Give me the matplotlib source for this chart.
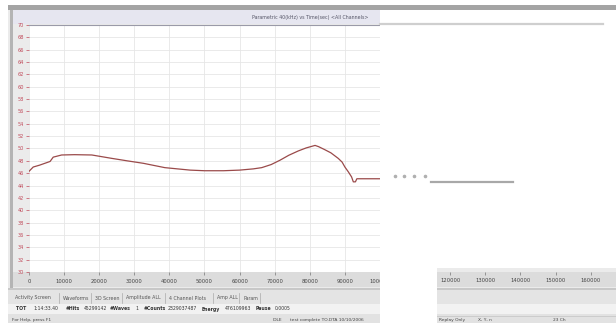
import matplotlib
matplotlib.use("Agg")
import matplotlib.pyplot as plt
from matplotlib.patches import Rectangle
from matplotlib.lines import Line2D

# ---- data ----
time_s = [0, 1200, 3000, 4500, 6000, 6900, 9300, 13000, 17900, 23600, 28000, 32600,
          38700, 45900, 50000, 55400, 60000, 63900, 66300, 69000, 71500, 74000, 76700,
          79000, 81500, 82500, 84300, 86000, 88100, 89200, 90000, 91000, 91900, 92400,
          93000, 93400, 96000, 100000]
param_khz = [46.3, 47.0, 47.3, 47.6, 47.9, 48.6, 48.95, 49.0, 48.95, 48.4, 48.0, 47.6,
             46.9, 46.5, 46.4, 46.4, 46.5, 46.7, 46.9, 47.4, 48.1, 48.9, 49.6,
             50.1, 50.5, 50.3, 49.8, 49.3, 48.4, 47.8, 47.0, 46.2, 45.4, 44.6,
             44.6, 45.1, 45.1, 45.1]
y_ticks = list(range(30, 71, 2))
x_ticks = [0, 10000, 20000, 30000, 40000, 50000, 60000, 70000, 80000, 90000, 100000]
x_ticks_right = [120000, 130000, 140000, 150000, 160000]
tabs = ["Activity Screen", "Waveforms", "3D Screen", "Amplitude ALL", "4 Channel Plots", "Amp ALL", "Param"]

W, H = 616, 323
fig = plt.figure(figsize=(W / 100, H / 100), dpi=100)
fig.patch.set_facecolor("white")

def frect(x0, y0, x1, y1, color, z=-5, **kw):
    r = Rectangle((x0 / W, 1 - y1 / H), (x1 - x0) / W, (y1 - y0) / H,
                  transform=fig.transFigure, facecolor=color, edgecolor="none", zorder=z, **kw)
    fig.patches.append(r)

def fline(x0, y0, x1, y1, color, lw=1, z=6, **kw):
    fig.lines.append(Line2D([x0 / W, x1 / W], [1 - y0 / H, 1 - y1 / H], transform=fig.transFigure,
                            color=color, lw=lw, zorder=z, **kw))

def ftext(x, y, s, size=4, z=7, **kw):
    fig.text(x / W, 1 - y / H, s, fontsize=size, zorder=z, va="center", **kw)

# window backgrounds
frect(8, 5, 616, 10, "#a4a4a4")
frect(8, 10, 616, 290, "#ebebeb")
frect(10, 10, 13, 290, "#b4b4b4")
frect(13, 10, 380, 24, "#e6e6f0")
frect(13, 272, 616, 287, "#dcdcdc")
frect(8, 288, 616, 290, "#c8c8c8")
frect(8, 290, 616, 304, "#e4e4e4")
frect(8, 304, 616, 314, "#f2f2f2")
frect(8, 314, 616, 323, "#e2e2e2")

# main axes
ax = fig.add_axes([29 / W, 1 - 272 / H, 351 / W, 247 / H])
ax.set_facecolor("white")
ax.plot(time_s, param_khz, color="#9a4a4a", lw=0.9)
ax.set_xlim(0, 100000)
ax.set_ylim(30, 70)
ax.set_yticks(y_ticks)
ax.set_yticklabels([str(v) for v in y_ticks])
ax.set_xticks(x_ticks)
ax.set_xticklabels([str(v) for v in x_ticks])
ax.grid(True, color="#e6e6e6", lw=0.6)
ax.tick_params(axis="y", labelsize=3.6, labelcolor="#c04a5a", color="#c04a5a", length=2.5, width=0.5, pad=1)
ax.tick_params(axis="x", labelsize=3.8, labelcolor="#444444", color="#777777", length=2, width=0.5, pad=3)
for s in ax.spines.values():
    s.set_visible(False)
ax.spines["top"].set_visible(True)
ax.spines["top"].set_color("#9a9aa8")
ax.spines["top"].set_linewidth(0.8)

# right bottom strip axis (continuation)
ax2 = fig.add_axes([437 / W, 1 - 287 / H, 179 / W, 15 / H])
ax2.set_facecolor("#dcdcdc")
ax2.set_xlim((437 - 29) / 351 * 100000, (616 - 29) / 351 * 100000)
ax2.set_xticks(x_ticks_right)
ax2.set_xticklabels([str(v) for v in x_ticks_right])
ax2.set_yticks([])
ax2.tick_params(axis="x", labelsize=3.8, labelcolor="#444444", color="#777777", length=2,
                width=0.5, pad=-8, direction="in")
ax2.xaxis.set_ticks_position("top")
for s in ax2.spines.values():
    s.set_visible(False)

# white overlay on right
frect(380, 10, 616, 268, "white", z=5)
frect(380, 268, 437, 323, "white", z=5)
fline(380, 24, 603, 24, "#cfcfcf", lw=1.6)
for xd in [395, 404, 414, 425]:
    fig.lines.append(Line2D([xd / W], [1 - 176 / H], transform=fig.transFigure, marker="o",
                            ms=1.6, color="#b0b0b0", lw=0, zorder=6))
fline(431, 182, 513, 182, "#a8a8a8", lw=1.6)

# header text
ftext(368, 17, "Parametric 40(kHz) vs Time(sec) <All Channels>", size=3.4, ha="right", color="#555566")

# tabs
x = 15
for t in tabs:
    fig.text(x / W, 1 - 298 / H, t, fontsize=3.4, color="#555555", va="center", zorder=7)
    x += len(t) * 2.65 + 8
    fline(x - 4, 293, x - 4, 303, "#aaaaaa", lw=0.5)

# status line
status = [("TOT", True, 16), ("1:14:33.40", False, 33), ("#Hits", True, 66), ("45299142", False, 84),
          ("#Waves", True, 110), ("1", False, 135), ("#Counts", True, 144), ("2329037487", False, 168),
          ("Energy", True, 202), ("476109963", False, 225), ("Pause", True, 256), ("0.0005", False, 275)]
for s, bold, xx in status:
    ftext(xx, 309, s, size=3.3, color="#333333", weight="bold" if bold else "normal")

ftext(12, 320, "For Help, press F1", size=3.2, color="#444444")
ftext(273, 320, "IDLE", size=3.2, color="#444444")
ftext(290, 320, "test complete TO.DTA 10/10/2006", size=3.2, color="#444444")
ftext(439, 320, "Replay Only", size=3.2, color="#444444")
ftext(478, 320, "X, Y, n", size=3.2, color="#444444")
ftext(553, 320, "23 Ch", size=3.2, color="#444444")
frect(437, 316, 616, 317, "#cccccc", z=4)

fig.savefig("out.png", dpi=100, facecolor="white")
